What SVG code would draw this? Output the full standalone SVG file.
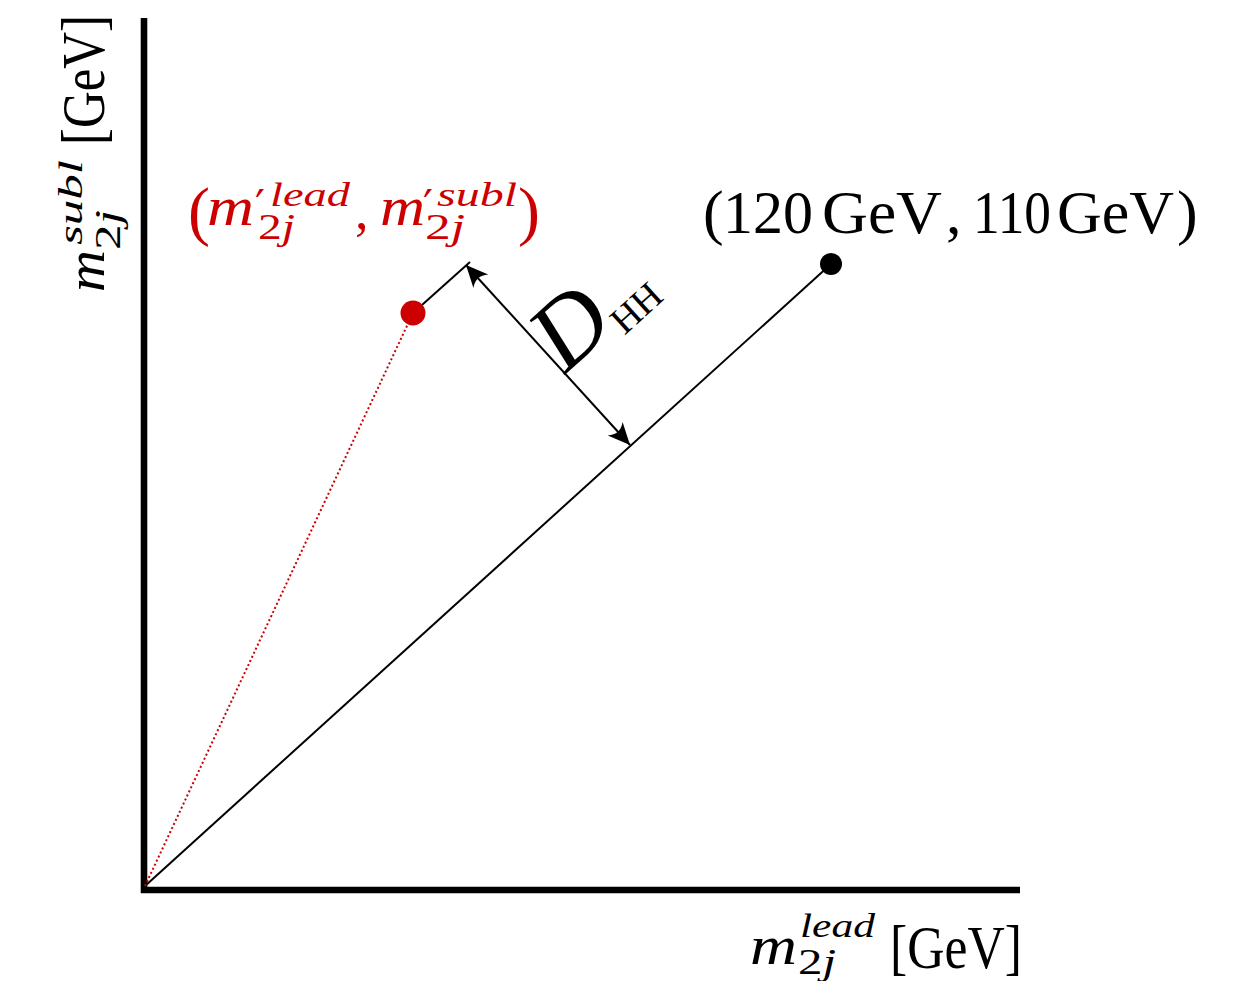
<svg xmlns="http://www.w3.org/2000/svg" width="1255" height="981" viewBox="0 0 1255 981">
<style>
text{font-family:"Liberation Serif","DejaVu Serif",serif;fill:#000}
.it{font-style:italic}
.red text,.red{fill:#cc0000}
.axis{stroke:#000;stroke-width:6.6;fill:none}
.ln{stroke:#000;stroke-width:2;fill:none}
.big{font-size:62px}
.m{font-size:54px;font-style:italic}
.sup{font-size:34px;font-style:italic}
.sub{font-size:36px}
.par{font-size:66px}
.pr{font-size:44px;font-family:"DejaVu Serif",serif}
</style>
<defs>
<marker id="ah" viewBox="-24 -12 26 24" refX="0" refY="0" markerWidth="26" markerHeight="24" markerUnits="userSpaceOnUse" orient="auto-start-reverse">
<path d="M0,0 L-22,-10 Q-14,0 -22,10 Z" fill="#000"/>
</marker>
</defs>
<rect width="1255" height="981" fill="#fff"/>
<g id="axes">
<line class="axis" x1="144" y1="18" x2="144" y2="893"/>
<line class="axis" x1="141" y1="890" x2="1020" y2="890"/>
</g>
<g id="connectors">
<line class="ln" x1="145" y1="886" x2="831" y2="264"/>
<line x1="145" y1="886" x2="413" y2="313" stroke="#cc0000" stroke-width="2" stroke-dasharray="2 2.5"/>
<line class="ln" x1="413" y1="313" x2="470" y2="262"/>
<line class="ln" x1="466" y1="265" x2="630" y2="445" stroke-width="1.8" marker-start="url(#ah)" marker-end="url(#ah)"/>
</g>
<g id="target-point">
<circle cx="831" cy="264" r="11" fill="#000"/>
<text y="233" class="big"><tspan x="703">(</tspan><tspan x="723" textLength="90" lengthAdjust="spacingAndGlyphs">120</tspan><tspan x="822" textLength="120" lengthAdjust="spacingAndGlyphs">GeV</tspan><tspan x="946">,</tspan><tspan x="973" textLength="78" lengthAdjust="spacingAndGlyphs">110</tspan><tspan x="1057" textLength="117" lengthAdjust="spacingAndGlyphs">GeV</tspan><tspan x="1177">)</tspan></text>
</g>
<g id="event-point" class="red">
<circle cx="413" cy="313" r="12.5" fill="#cc0000"/>
<text x="188" y="233" class="par">(</text>
<text x="207" y="225" class="m" textLength="47" lengthAdjust="spacingAndGlyphs">m</text>
<text x="255" y="222" class="pr">′</text>
<text x="270" y="206" class="sup" textLength="80" lengthAdjust="spacingAndGlyphs">lead</text>
<text x="258" y="239" class="sub" textLength="37" lengthAdjust="spacingAndGlyphs">2<tspan class="it">j</tspan></text>
<text x="355" y="229" class="m" style="font-style:normal">,</text>
<text x="380" y="225" class="m" textLength="45" lengthAdjust="spacingAndGlyphs">m</text>
<text x="423" y="222" class="pr">′</text>
<text x="437" y="206" class="sup" textLength="80" lengthAdjust="spacingAndGlyphs">subl</text>
<text x="425" y="239" class="sub" textLength="40" lengthAdjust="spacingAndGlyphs">2<tspan class="it">j</tspan></text>
<text x="518" y="233" class="par">)</text>
</g>
<g id="dhh-label" transform="translate(570,327) rotate(-42.2)">
<text x="0" y="32" text-anchor="middle" class="it" style="font-size:98px">D</text>
<text x="62" y="43" text-anchor="middle" style="font-size:38px">HH</text>
</g>
<g id="x-label">
<text x="750" y="964" class="m" textLength="47" lengthAdjust="spacingAndGlyphs">m</text>
<text x="800" y="937" class="sup" textLength="75" lengthAdjust="spacingAndGlyphs">lead</text>
<text x="798" y="974" class="sub" textLength="38" lengthAdjust="spacingAndGlyphs">2<tspan class="it">j</tspan></text>
<text x="890" y="968" class="big" textLength="132" lengthAdjust="spacingAndGlyphs">[GeV]</text>
</g>
<g id="y-label" transform="translate(104,0) rotate(-90)">
<text x="-292" y="0" class="m" textLength="42" lengthAdjust="spacingAndGlyphs">m</text>
<text x="-245" y="-22" class="sup" textLength="85" lengthAdjust="spacingAndGlyphs">subl</text>
<text x="-250" y="16" class="sub" textLength="40" lengthAdjust="spacingAndGlyphs">2<tspan class="it">j</tspan></text>
<text x="-145" y="0" class="big" textLength="130" lengthAdjust="spacingAndGlyphs">[GeV]</text>
</g>
</svg>
